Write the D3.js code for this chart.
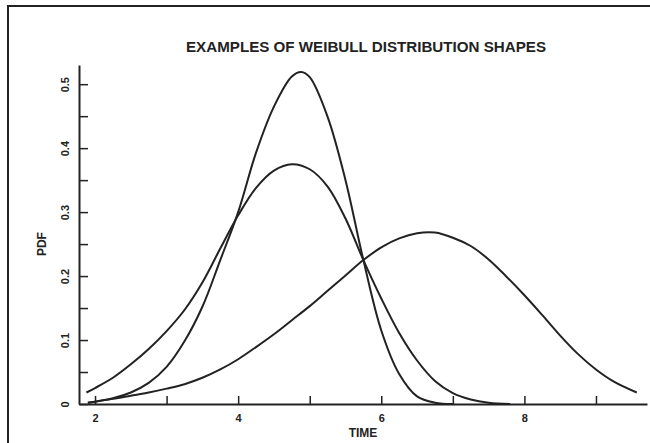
<!DOCTYPE html>
<html>
<head>
<meta charset="utf-8">
<script src="https://cdn.jsdelivr.net/npm/d3@7"></script>
<style>
  html, body { margin: 0; padding: 0; background: #fff; overflow: hidden; }
  svg { display: block; }
  .lbl { font-family: "Liberation Sans", Arial, sans-serif; font-weight: bold; fill: #222; }
</style>
</head>
<body>
<svg id="chart" width="650" height="443"></svg>
<script>
  // Curve readings, [time, pdf] pairs
  const tallCurve = [
    [1.9, 0.002], [2.25, 0.009], [2.5, 0.018], [2.75, 0.033], [3.0, 0.058],
    [3.25, 0.098], [3.5, 0.152], [3.75, 0.225], [4.0, 0.30], [4.25, 0.393],
    [4.5, 0.465], [4.75, 0.512], [4.88, 0.519], [5.0, 0.511], [5.25, 0.449],
    [5.5, 0.35], [5.75, 0.225], [6.0, 0.115], [6.25, 0.047], [6.5, 0.012],
    [6.75, 0.002], [7.0, 0.0]
  ];
  const midCurve = [
    [1.88, 0.018], [2.0, 0.025], [2.25, 0.041], [2.5, 0.062], [2.75, 0.086],
    [3.0, 0.114], [3.25, 0.147], [3.5, 0.19], [3.75, 0.243], [4.0, 0.295],
    [4.25, 0.338], [4.5, 0.365], [4.75, 0.375], [5.0, 0.367], [5.25, 0.34],
    [5.5, 0.29], [5.75, 0.225], [6.0, 0.165], [6.25, 0.111], [6.5, 0.068],
    [6.75, 0.036], [7.0, 0.017], [7.25, 0.007], [7.5, 0.002], [7.8, 0.0]
  ];
  const wideCurve = [
    [1.9, 0.002], [2.25, 0.008], [2.5, 0.013], [2.75, 0.018], [3.0, 0.024],
    [3.25, 0.031], [3.5, 0.041], [3.75, 0.054], [4.0, 0.07], [4.25, 0.089],
    [4.5, 0.109], [4.75, 0.131], [5.0, 0.153], [5.25, 0.177], [5.5, 0.201],
    [5.75, 0.225], [6.0, 0.245], [6.25, 0.259], [6.5, 0.267], [6.75, 0.268],
    [7.0, 0.26], [7.25, 0.247], [7.5, 0.226], [7.75, 0.199], [8.0, 0.17],
    [8.25, 0.139], [8.5, 0.107], [8.75, 0.078], [9.0, 0.054], [9.25, 0.035],
    [9.57, 0.018]
  ];
  const curves = [tallCurve, midCurve, wideCurve];

  const xTicks = [2, 3, 4, 5, 6, 7, 8, 9];
  const xLabels = [2, 4, 6, 8];
  const yTicks = [0, 0.05, 0.1, 0.15, 0.2, 0.25, 0.3, 0.35, 0.4, 0.45, 0.5];
  const yLabels = [0, 0.1, 0.2, 0.3, 0.4, 0.5];

  const title = 'EXAMPLES OF WEIBULL DISTRIBUTION SHAPES';
  const xTitle = 'TIME';
  const yTitle = 'PDF';

  const ink = '#222';
  const svg = d3.select('#chart');

  // outer frame (right / bottom edges fall outside the picture)
  svg.append('rect')
    .attr('x', 8).attr('y', 6)
    .attr('width', 660).attr('height', 460)
    .attr('fill', 'none')
    .attr('stroke', ink)
    .attr('stroke-width', 2);

  const x = d3.scaleLinear().domain([1.776, 9.713]).range([79, 647]);
  const y = d3.scaleLinear().domain([0, 0.53]).range([404, 65]);

  // x axis, ticks pointing up
  const xAxis = svg.append('g')
    .attr('transform', `translate(0,${y(0)})`)
    .call(d3.axisBottom(x)
      .tickValues(xTicks)
      .tickSizeInner(-8)
      .tickSizeOuter(0)
      .tickFormat(d => xLabels.includes(d) ? d : ''));
  xAxis.select('.domain').attr('stroke', ink).attr('stroke-width', 2);
  xAxis.selectAll('.tick line').attr('stroke', ink).attr('stroke-width', 1.5);
  xAxis.selectAll('.tick text')
    .attr('class', 'lbl')
    .style('font-size', '11px')
    .attr('y', 10)
    .attr('dy', '0.71em');

  // y axis, ticks pointing right, labels turned
  const yAxis = svg.append('g')
    .attr('transform', `translate(${x.range()[0]},0)`)
    .call(d3.axisLeft(y)
      .tickValues(yTicks)
      .tickSizeInner(-9)
      .tickSizeOuter(0)
      .tickFormat(d => yLabels.some(v => Math.abs(v - d) < 1e-9) ? (d === 0 ? '0' : d3.format('.1f')(d)) : ''));
  yAxis.select('.domain').attr('stroke', ink).attr('stroke-width', 2);
  yAxis.selectAll('.tick line').attr('stroke', ink).attr('stroke-width', 1.5);
  yAxis.selectAll('.tick text')
    .attr('class', 'lbl')
    .style('font-size', '11px')
    .attr('x', null).attr('dy', null)
    .attr('text-anchor', 'middle')
    .attr('transform', 'translate(-10,0) rotate(-90)');

  // curves
  const line = d3.line()
    .x(d => x(d[0]))
    .y(d => y(d[1]))
    .curve(d3.curveCatmullRom.alpha(0.5));

  svg.append('g')
    .selectAll('path')
    .data(curves)
    .enter()
    .append('path')
    .attr('d', line)
    .attr('fill', 'none')
    .attr('stroke', ink)
    .attr('stroke-width', 2);

  // titles
  svg.append('text')
    .attr('class', 'lbl')
    .attr('x', 366).attr('y', 52)
    .attr('text-anchor', 'middle')
    .attr('textLength', 360)
    .attr('lengthAdjust', 'spacingAndGlyphs')
    .style('font-size', '14px')
    .text(title);

  svg.append('text')
    .attr('class', 'lbl')
    .attr('x', 363).attr('y', 437)
    .attr('text-anchor', 'middle')
    .style('font-size', '12px')
    .text(xTitle);

  svg.append('text')
    .attr('class', 'lbl')
    .attr('transform', `translate(46,${y(0.25)}) rotate(-90)`)
    .attr('text-anchor', 'middle')
    .style('font-size', '12px')
    .text(yTitle);
</script>
</body>
</html>
